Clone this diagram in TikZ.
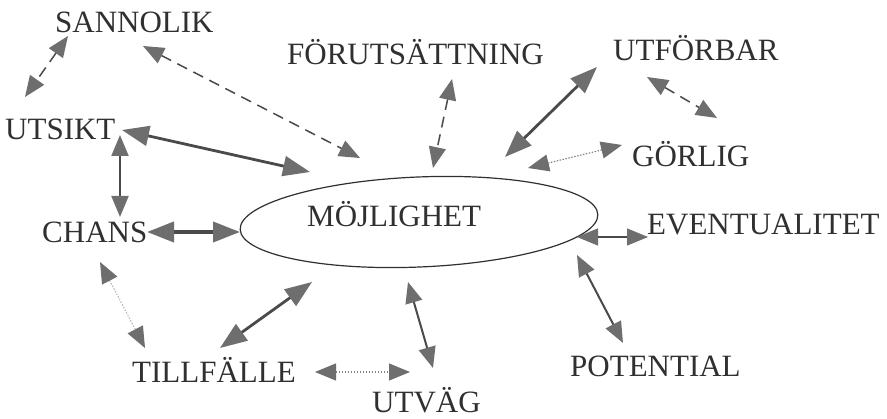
\documentclass[tikz,border=0pt]{standalone}
\usepackage{fontspec}
\setmainfont{Liberation Serif}
\usetikzlibrary{arrows.meta,shapes.geometric}
\definecolor{ink}{HTML}{303030}
\definecolor{linec}{HTML}{4A4A4A}
\definecolor{headc}{HTML}{6E6E6E}
\begin{document}
\begin{tikzpicture}[x=1pt,y=-1pt,
  word/.style={font=\fontsize{31}{33}\selectfont, text=ink, inner sep=0pt, anchor=base west},
  hd/.style={{Triangle[length=21pt,width=17pt,color=headc]}-{Triangle[length=21pt,width=17pt,color=headc]}},
  bighd/.style={{Triangle[length=27pt,width=20pt,color=headc]}-{Triangle[length=27pt,width=20pt,color=headc]}},
  dashlink/.style={hd, draw=linec, line width=1.5pt, dash pattern=on 11pt off 7pt},
  dotlink/.style={hd, draw=linec!70, line width=1.1pt, dash pattern=on 1.5pt off 1.5pt},
  thinlink/.style={hd, draw=linec, line width=1.3pt},
  midlink/.style={hd, draw=linec, line width=2pt},
  thicklink/.style={bighd, draw=linec, line width=2.8pt},
  heavylink/.style={bighd, draw=linec, line width=4pt}]
\useasboundingbox (0,0) rectangle (887,419);
\fill[white] (0,0) rectangle (887,419);

% words
\node[word] (san) at (55,33) {SANNOLIK};
\node[word] (for) at (287,65) {FÖRUTSÄTTNING};
\node[word] (utf) at (613,61) {UTFÖRBAR};
\node[word] (gor) at (632,167) {GÖRLIG};
\node[word] (uts) at (5,140) {UTSIKT};
\node[word] (cha) at (42,243) {CHANS};
\node[word] (mojt) at (307,227) {MÖJLIGHET};
\node[word] (eve) at (647,235) {EVENTUALITET};
\node[word] (pot) at (570,377) {POTENTIAL};
\node[word] (til) at (132,383) {TILLFÄLLE};
\node[word] (utv) at (372,413) {UTVÄG};

% ellipse
\node[draw=ink, line width=1.2pt, ellipse, minimum width=358pt, minimum height=90pt, inner sep=0pt, rotate=2.4] (moj) at (419,222) {};

% arrow end points
\coordinate (a1) at (68,36);   \coordinate (b1) at (25,97);
\coordinate (a2) at (143,46);  \coordinate (b2) at (360,158);
\coordinate (a3) at (122,130); \coordinate (b3) at (310,172);
\coordinate (a4) at (120,135); \coordinate (b4) at (120,217);
\coordinate (a5) at (147,232); \coordinate (b5) at (240,232);
\coordinate (a6) at (452,79);  \coordinate (b6) at (433,168);
\coordinate (a7) at (597,67);  \coordinate (b7) at (505,157);
\coordinate (a8) at (647,77);  \coordinate (b8) at (717,118);
\coordinate (a9) at (622,145); \coordinate (b9) at (528,168);
\coordinate (a10) at (577,237); \coordinate (b10) at (648,237);
\coordinate (a11) at (577,255); \coordinate (b11) at (623,343);
\coordinate (a12) at (100,262); \coordinate (b12) at (145,348);
\coordinate (a13) at (220,348); \coordinate (b13) at (312,282);
\coordinate (a14) at (315,372); \coordinate (b14) at (410,372);
\coordinate (a15) at (408,282); \coordinate (b15) at (433,368);

\draw[dashlink] (a1) -- (b1);
\draw[dashlink] (a2) -- (b2);
\draw[thicklink] (a3) -- (b3);
\draw[midlink] (a4) -- (b4);
\draw[heavylink] (a5) -- (b5);
\draw[dashlink] (a6) -- (b6);
\draw[thicklink] (a7) -- (b7);
\draw[dashlink] (a8) -- (b8);
\draw[dotlink] (a9) -- (b9);
\draw[thinlink] (a10) -- (b10);
\draw[midlink] (a11) -- (b11);
\draw[dotlink, draw=linec!40] (a12) -- (b12);
\draw[thicklink] (a13) -- (b13);
\draw[dotlink] (a14) -- (b14);
\draw[midlink] (a15) -- (b15);
\end{tikzpicture}
\end{document}
